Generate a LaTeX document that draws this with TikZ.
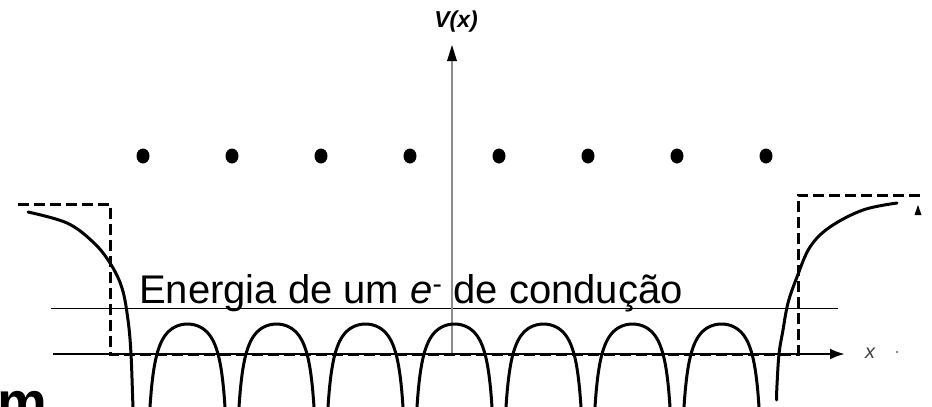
\documentclass[tikz,border=0pt]{standalone}
\usepackage{fontspec}
\setmainfont{Liberation Sans}
\usetikzlibrary{arrows.meta}
\begin{document}
\begin{tikzpicture}[x=1pt,y=-1pt,
  curve/.style={line width=3pt,black,line cap=round},
  boxdash/.style={line width=3pt,black,dash pattern=on 11pt off 5pt},
  axisline/.style={line width=2.6pt,black}]
\useasboundingbox (0,0) rectangle (932,407);
\begin{scope}
\clip (0,0) rectangle (932,407);
% ions
\foreach \i in {0,...,7}{
  \fill[black] ({143+89*\i},156) ellipse (6.5pt and 7.5pt);
}
% energy level line
\draw[line width=1pt] (51,308) coordinate (e0) -- (838,308) coordinate (e1);
% x axis
\draw[axisline,-{Latex[length=15pt,width=11pt]}] (53,354) coordinate (xa0) -- (845,354) coordinate (xa1);
% vertical axis
\draw[line width=1.8pt,black!45] (452,354) coordinate (va0) -- (452,58) coordinate (va1);
\fill[black] (452,45) -- (447,61) -- (457,61) -- cycle;
% dashed box
\draw[boxdash] (18,204) -- (110,204) -- (110,354) -- (798,354) -- (798,195) -- (922,195);
% small tip
\fill[black] (918,205) -- (914.5,215) -- (921.5,215) -- cycle;
% arches
\foreach \i in {0,...,6}{
  \draw[curve] plot[domain=6:83,samples=140,variable=\t]
    ({143+89*\i+\t},{354-63.8+753*(1/\t+1/(89-\t))});
}
% left edge
\draw[curve] plot[smooth,tension=0.6] coordinates
  {(28,212) (67,223) (93,242) (110,263) (122,288) (128,320) (131,354) (133,407) (134,420)};
% right edge
\draw[curve] plot[smooth,tension=0.6] coordinates
  {(897,203) (863,210) (830,227) (810,247) (797,277) (788,303) (783,330) (779,354) (777,385) (776.5,400)};
\node[anchor=base west,inner sep=0pt,font=\fontsize{56}{56}\selectfont\bfseries] (m) at (-3,421) {m};
\end{scope}
% labels
\node[inner sep=0pt,font=\fontsize{23}{23}\selectfont\bfseries\itshape] (vx) at (456,22) {V(x)};
\node[inner sep=0pt,font=\fontsize{20}{20}\selectfont\itshape,text=black!75] (xl) at (870,353) {x};
\fill[black!50] (897,352) circle (1.3pt);
\node[anchor=base west,inner sep=0pt,font=\fontsize{40}{42}\selectfont] (txt) at (139,303)
  {Energia de um \textit{e}\textsuperscript{-} de condução};
\end{tikzpicture}
\end{document}
